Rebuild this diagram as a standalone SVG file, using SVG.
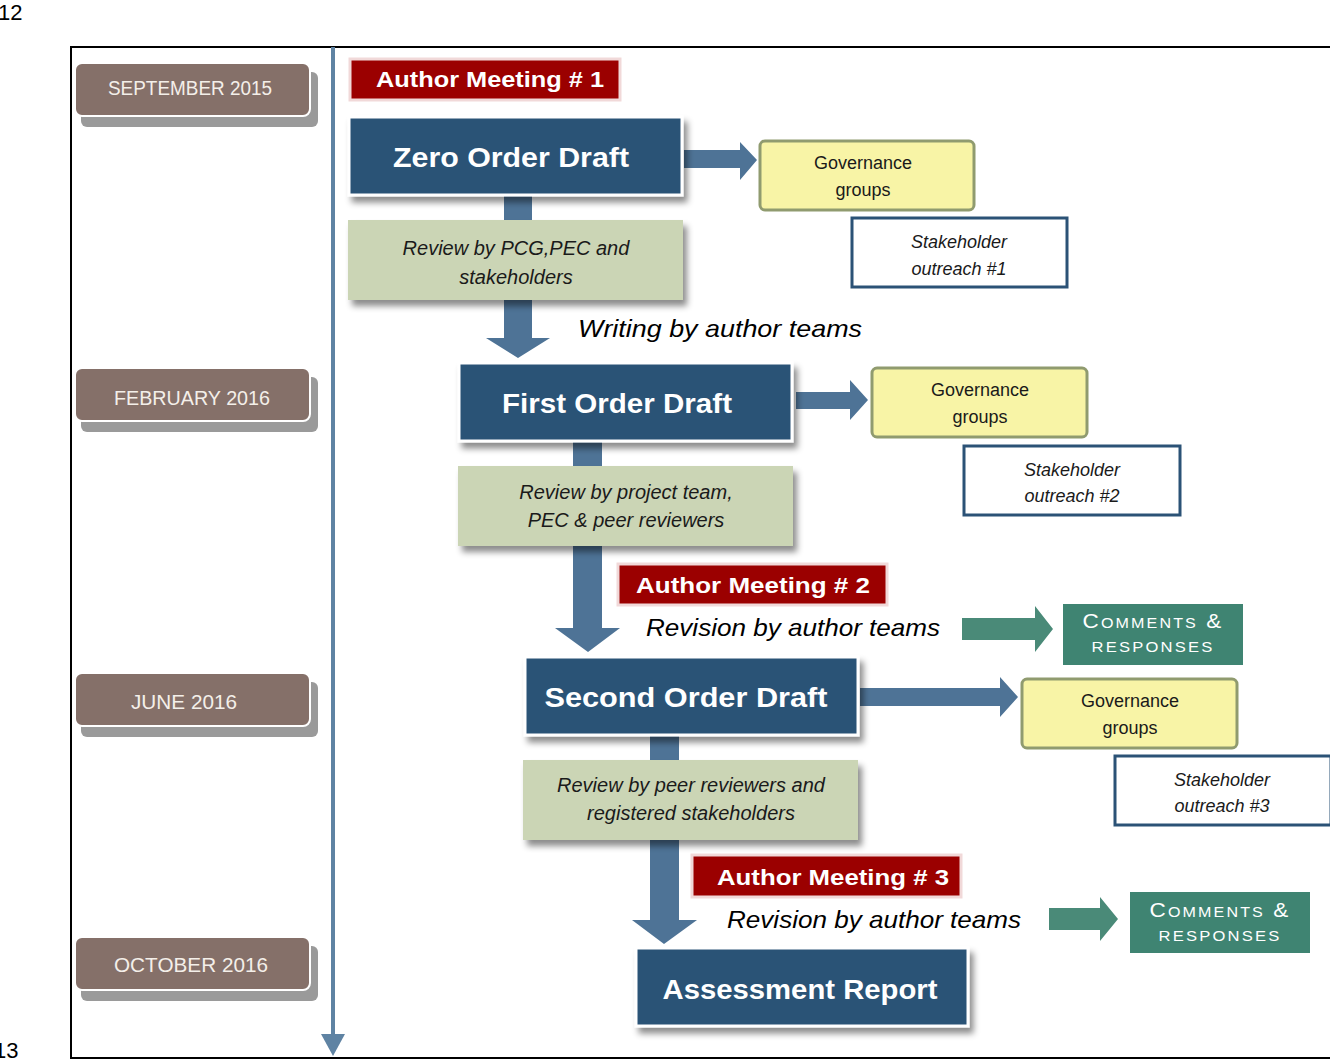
<svg xmlns="http://www.w3.org/2000/svg" width="1330" height="1060" viewBox="0 0 1330 1060">
<style>
.date{fill:#857069;stroke:#ffffff;stroke-width:2}
.dshadow{fill:#9a9a9a}
.dtext{font-family:"Liberation Sans",Arial,sans-serif;font-size:20px;fill:#f4efe9;text-anchor:middle}
.meet{fill:#9b0000;stroke:#f1d9d9;stroke-width:3}
.mtext{font-family:"Liberation Sans",Arial,sans-serif;font-weight:bold;font-size:22px;fill:#ffffff;text-anchor:middle}
.draft{fill:#2b5276;stroke:#ffffff;stroke-width:3}
.drtext{font-family:"Liberation Sans",Arial,sans-serif;font-weight:bold;font-size:27px;fill:#ffffff;text-anchor:middle}
.rev{fill:#cbd5b5}
.rtext{font-family:"Liberation Sans",Arial,sans-serif;font-style:italic;font-size:20px;fill:#1a1a1a;text-anchor:middle}
.gov{fill:#f8f4a6;stroke:#909b6f;stroke-width:3}
.stk{fill:#ffffff;stroke:#2b5276;stroke-width:3}
.gtext{font-family:"Liberation Sans",Arial,sans-serif;font-size:18px;fill:#1a1a1a;text-anchor:middle}
.stext{font-family:"Liberation Sans",Arial,sans-serif;font-style:italic;font-size:18px;fill:#1a1a1a;text-anchor:middle}
.com{fill:#3f8472}
.ctext{font-family:"Liberation Sans",Arial,sans-serif;font-size:21px;fill:#ffffff;text-anchor:middle;font-variant:small-caps;letter-spacing:2px}
.lab{font-family:"Liberation Sans",Arial,sans-serif;font-style:italic;font-size:24px;fill:#000000}
.barrow{fill:#4e7396}
.tarrow{fill:#4a8a78}
.pg{font-family:"Liberation Sans",Arial,sans-serif;font-size:22px;fill:#000}
</style>
<defs>
<filter id="sh" x="-10%" y="-20%" width="125%" height="150%">
<feDropShadow dx="4" dy="6" stdDeviation="3" flood-color="#000" flood-opacity="0.45"/>
</filter>
</defs>
<rect width="1330" height="1060" fill="#ffffff"/>
<text class="pg" x="-2" y="20">12</text>
<text class="pg" x="-6" y="1058">13</text>
<rect x="71" y="47" width="1270" height="1011" fill="none" stroke="#000" stroke-width="2"/>

<g id="timeline">
<line x1="333" y1="47" x2="333" y2="1040" stroke="#5f83a3" stroke-width="4"/>
<path d="M321,1034 L345,1034 L333,1056 Z" fill="#5f83a3"/>
</g>

<g id="date-sep2015">
<rect class="dshadow" x="81" y="72" width="237" height="55" rx="6"/>
<rect class="date" x="75" y="63" width="235" height="53" rx="7"/>
<text class="dtext" x="190" y="95" textLength="164" lengthAdjust="spacingAndGlyphs">SEPTEMBER 2015</text>
</g>
<g id="date-feb2016">
<rect class="dshadow" x="81" y="377" width="237" height="55" rx="6"/>
<rect class="date" x="75" y="368" width="235" height="53" rx="7"/>
<text class="dtext" x="192" y="405" textLength="156" lengthAdjust="spacingAndGlyphs">FEBRUARY 2016</text>
</g>
<g id="date-jun2016">
<rect class="dshadow" x="81" y="682" width="237" height="55" rx="6"/>
<rect class="date" x="75" y="673" width="235" height="53" rx="7"/>
<text class="dtext" x="184" y="709" textLength="106" lengthAdjust="spacingAndGlyphs">JUNE 2016</text>
</g>
<g id="date-oct2016">
<rect class="dshadow" x="81" y="946" width="237" height="55" rx="6"/>
<rect class="date" x="75" y="937" width="235" height="53" rx="7"/>
<text class="dtext" x="191" y="972" textLength="154" lengthAdjust="spacingAndGlyphs">OCTOBER 2016</text>
</g>

<g id="connectors">
<path class="barrow" d="M684,150 H740 V142 L757,160 L740,180 V168 H684 Z"/>
<rect class="barrow" x="504" y="195" width="28" height="25"/>
<path class="barrow" d="M504,300 H532 V338 H550 L518,358 L486,338 H504 Z"/>
<path class="barrow" d="M796,392 H850 V380 L868,400 L850,420 V409 H796 Z"/>
<rect class="barrow" x="573" y="441" width="29" height="25"/>
<path class="barrow" d="M573,546 H602 V628 H620 L588,652 L555,628 H573 Z"/>
<path class="tarrow" d="M962,618 H1035 V606 L1053,629 L1035,652 V640 H962 Z"/>
<path class="barrow" d="M860,688 H1000 V677 L1018,697 L1000,717 V706 H860 Z"/>
<rect class="barrow" x="650" y="735" width="29" height="25"/>
<path class="barrow" d="M650,840 H679 V920 H697 L664,944 L632,920 H650 Z"/>
<path class="tarrow" d="M1049,908 H1100 V897 L1118,919 L1100,941 V930 H1049 Z"/>
</g>

<g id="meeting1">
<rect class="meet" x="350" y="59" width="270" height="41"/>
<text class="mtext" x="490" y="87" textLength="228" lengthAdjust="spacingAndGlyphs">Author Meeting # 1</text>
</g>
<g id="zero-order-draft">
<rect class="draft" x="349" y="117" width="333" height="78" filter="url(#sh)"/>
<text class="drtext" x="511" y="167" textLength="236" lengthAdjust="spacingAndGlyphs">Zero Order Draft</text>
</g>
<g id="gov1">
<rect class="gov" x="760" y="141" width="214" height="69" rx="5"/>
<text class="gtext" x="863" y="169">Governance</text>
<text class="gtext" x="863" y="196">groups</text>
</g>
<g id="stake1">
<rect class="stk" x="852" y="218" width="215" height="69"/>
<text class="stext" x="959" y="248">Stakeholder</text>
<text class="stext" x="959" y="275">outreach #1</text>
</g>
<g id="review1">
<rect class="rev" x="348" y="220" width="335" height="80" filter="url(#sh)"/>
<text class="rtext" x="516" y="255">Review by PCG,PEC and</text>
<text class="rtext" x="516" y="284">stakeholders</text>
</g>
<text class="lab" x="578" y="337" textLength="284" lengthAdjust="spacingAndGlyphs">Writing by author teams</text>

<g id="first-order-draft">
<rect class="draft" x="459" y="363" width="333" height="78" filter="url(#sh)"/>
<text class="drtext" x="617" y="413" textLength="230" lengthAdjust="spacingAndGlyphs">First Order Draft</text>
</g>
<g id="gov2">
<rect class="gov" x="872" y="368" width="215" height="69" rx="5"/>
<text class="gtext" x="980" y="396">Governance</text>
<text class="gtext" x="980" y="423">groups</text>
</g>
<g id="stake2">
<rect class="stk" x="964" y="446" width="216" height="69"/>
<text class="stext" x="1072" y="476">Stakeholder</text>
<text class="stext" x="1072" y="502">outreach #2</text>
</g>
<g id="review2">
<rect class="rev" x="458" y="466" width="335" height="80" filter="url(#sh)"/>
<text class="rtext" x="626" y="499">Review by project team,</text>
<text class="rtext" x="626" y="527">PEC &amp; peer reviewers</text>
</g>
<g id="meeting2">
<rect class="meet" x="618" y="564" width="269" height="41"/>
<text class="mtext" x="753" y="593" textLength="234" lengthAdjust="spacingAndGlyphs">Author Meeting # 2</text>
</g>
<text class="lab" x="646" y="636" textLength="294" lengthAdjust="spacingAndGlyphs">Revision by author teams</text>
<g id="comments1">
<rect class="com" x="1063" y="604" width="180" height="61"/>
<text class="ctext" x="1153" y="628" textLength="141" lengthAdjust="spacingAndGlyphs">Comments &amp;</text>
<text class="ctext" x="1153" y="652" textLength="123" lengthAdjust="spacingAndGlyphs">responses</text>
</g>

<g id="second-order-draft">
<rect class="draft" x="525" y="657" width="333" height="78" filter="url(#sh)"/>
<text class="drtext" x="686" y="707" textLength="283" lengthAdjust="spacingAndGlyphs">Second Order Draft</text>
</g>
<g id="gov3">
<rect class="gov" x="1022" y="679" width="215" height="69" rx="5"/>
<text class="gtext" x="1130" y="707">Governance</text>
<text class="gtext" x="1130" y="734">groups</text>
</g>
<g id="stake3">
<rect class="stk" x="1115" y="756" width="216" height="69"/>
<text class="stext" x="1222" y="786">Stakeholder</text>
<text class="stext" x="1222" y="812">outreach #3</text>
</g>
<g id="review3">
<rect class="rev" x="523" y="760" width="335" height="80" filter="url(#sh)"/>
<text class="rtext" x="691" y="792">Review by peer reviewers and</text>
<text class="rtext" x="691" y="820">registered stakeholders</text>
</g>
<g id="meeting3">
<rect class="meet" x="692" y="855" width="269" height="42"/>
<text class="mtext" x="833" y="885" textLength="232" lengthAdjust="spacingAndGlyphs">Author Meeting # 3</text>
</g>
<text class="lab" x="727" y="928" textLength="294" lengthAdjust="spacingAndGlyphs">Revision by author teams</text>
<g id="comments2">
<rect class="com" x="1130" y="892" width="180" height="61"/>
<text class="ctext" x="1220" y="917" textLength="141" lengthAdjust="spacingAndGlyphs">Comments &amp;</text>
<text class="ctext" x="1220" y="941" textLength="123" lengthAdjust="spacingAndGlyphs">responses</text>
</g>

<g id="assessment-report">
<rect class="draft" x="636" y="948" width="332" height="78" filter="url(#sh)"/>
<text class="drtext" x="800" y="999" textLength="275" lengthAdjust="spacingAndGlyphs">Assessment Report</text>
</g>
</svg>
